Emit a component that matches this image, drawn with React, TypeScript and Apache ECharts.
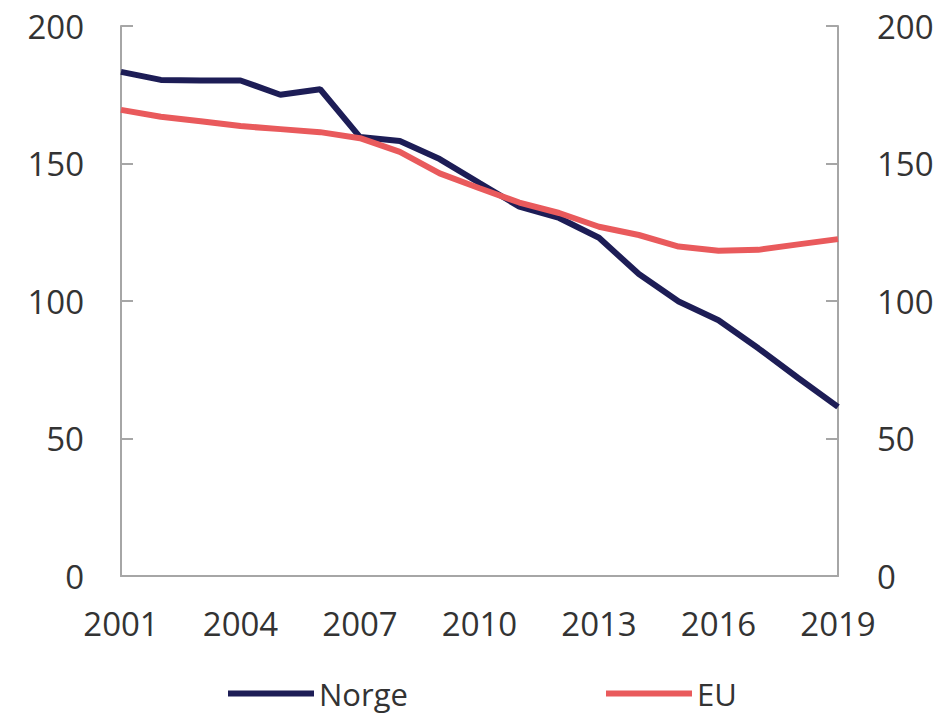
import React, { useEffect, useRef } from "react";
import * as echarts from "echarts";

const years = ["2001","2002","2003","2004","2005","2006","2007","2008","2009","2010","2011","2012","2013","2014","2015","2016","2017","2018","2019"];
const norge = [183.3, 180.4, 180.2, 180.2, 175, 177, 159.6, 158.2, 151.6, 142.9, 134.3, 130.2, 123, 109.8, 99.8, 93, 82.8, 72, 61.5];
const eu = [169.5, 167, 165.4, 163.6, 162.5, 161.4, 159.2, 154.2, 146.4, 141, 135.8, 132, 127, 124, 119.8, 118.3, 118.6, 120.6, 122.5];
const yTicks = [0, 50, 100, 150, 200];

const FONT = "'Open Sans', sans-serif";
const TEXT = "#333333";
const AXIS = "#a6a6a6";
const NAVY = "#1d1d56";
const RED = "#e95a5c";

export default function App() {
  const ref = useRef<HTMLDivElement>(null);
  useEffect(() => {
    if (!ref.current) return;
    const chart = echarts.init(ref.current, undefined, { renderer: "svg" });
    const yAxisBase = (pos: "left" | "right") => ({
      type: "value" as const,
      position: pos,
      min: yTicks[0],
      max: yTicks[yTicks.length - 1],
      interval: 50,
      axisLine: { show: true, lineStyle: { color: AXIS, width: 2 } },
      axisTick: { show: true, inside: true, length: 12, lineStyle: { color: AXIS, width: 2 } },
      splitLine: { show: false },
      axisLabel: { color: TEXT, fontSize: 33, fontFamily: FONT, margin: pos === "left" ? 37 : 39 },
    });
    const legendText = { color: TEXT, fontSize: 31, fontFamily: FONT, lineHeight: 31 };
    chart.setOption({
      animation: false,
      backgroundColor: "#ffffff",
      textStyle: { fontFamily: FONT },
      grid: { left: 121, right: 110, top: 26, bottom: 140, containLabel: false },
      legend: [
        {
          data: ["Norge"],
          left: 228,
          top: 678,
          padding: 0,
          icon: "rect",
          itemWidth: 86,
          itemHeight: 6,
          textStyle: legendText,
        },
        {
          data: ["EU"],
          left: 606,
          top: 678,
          padding: 0,
          icon: "rect",
          itemWidth: 86,
          itemHeight: 6,
          textStyle: legendText,
        },
      ],
      xAxis: {
        type: "category",
        data: years,
        boundaryGap: false,
        axisLine: { show: true, lineStyle: { color: AXIS, width: 2 } },
        axisTick: { show: false },
        axisLabel: {
          color: TEXT,
          fontSize: 33,
          fontFamily: FONT,
          margin: 31,
          interval: (i: number) => i % 3 === 0,
        },
        splitLine: { show: false },
      },
      yAxis: [yAxisBase("left"), yAxisBase("right")],
      series: [
        {
          name: "Norge",
          type: "line",
          data: norge,
          yAxisIndex: 0,
          symbol: "none",
          color: NAVY,
          lineStyle: { color: NAVY, width: 6 },
        },
        {
          name: "EU",
          type: "line",
          data: eu,
          yAxisIndex: 0,
          symbol: "none",
          color: RED,
          lineStyle: { color: RED, width: 6 },
        },
      ],
    });
    return () => chart.dispose();
  }, []);
  return (
    <div
      ref={ref}
      style={{ position: "absolute", left: 0, top: 0, width: 948, height: 716, background: "#fff" }}
    />
  );
}
